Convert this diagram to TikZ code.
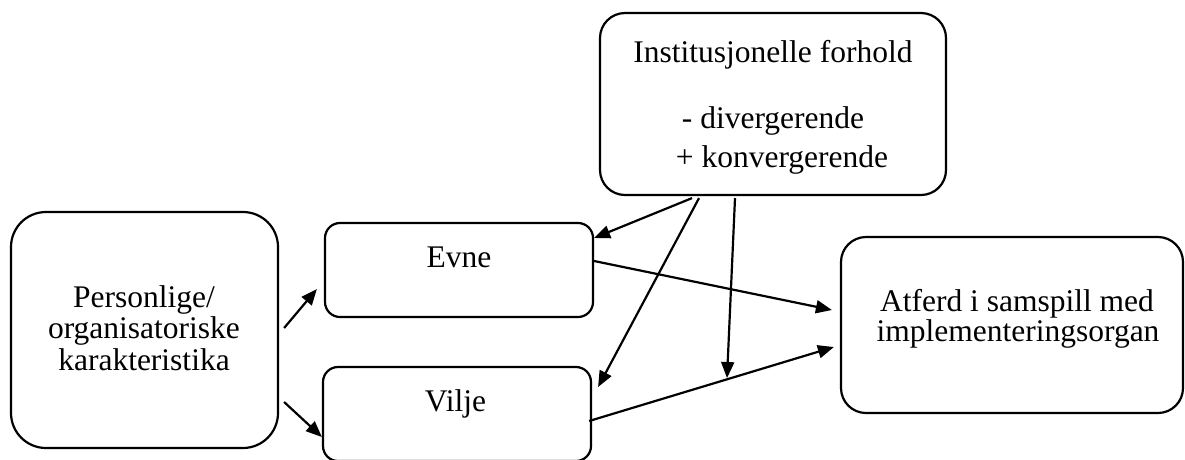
\documentclass[tikz,border=0pt]{standalone}
\usepackage{fontspec}
\setmainfont{Liberation Serif}
\usetikzlibrary{arrows.meta}
\begin{document}
\begin{tikzpicture}[x=1pt,y=-1pt,
  box/.style={draw, line width=2.2pt, rounded corners=#1, inner sep=0pt},
  box/.default=15pt,
  txt/.style={inner sep=0pt, anchor=base, font=\fontsize{31.5}{38}\selectfont},
  conn/.style={line width=2.2pt, -{Triangle[length=16pt,width=13pt]}}]
\useasboundingbox (0,0) rectangle (1185,459);
% boxes
\node[box=25pt, minimum width=346pt, minimum height=182pt] (inst) at (773,104) {};
\node[box=35pt, minimum width=267pt, minimum height=236pt] (pers) at (144.5,330) {};
\node[box=15pt, minimum width=268pt, minimum height=94pt] (evne) at (459,270) {};
\node[box=15pt, minimum width=268pt, minimum height=94pt] (vilje) at (457,414) {};
\node[box=25pt, minimum width=342pt, minimum height=176pt] (atf) at (1012,325) {};
% texts
\node[txt] (t1) at (773,62) {Institusjonelle forhold};
\node[txt] (t2) at (773,128) {- divergerende};
\node[txt] (t3) at (782,167) {+ konvergerende};
\node[txt] (t4) at (144,307) {Personlige/};
\node[txt] (t5) at (144,338) {organisatoriske};
\node[txt] (t6) at (144,370) {karakteristika};
\node[txt] (t7) at (459,267) {Evne};
\node[txt] (t8) at (455.5,411) {Vilje};
\node[txt] (t9) at (1017,311) {Atferd i samspill med};
\node[txt] (t10) at (1018,341) {implementeringsorgan};
% connectors
\coordinate (m) at (727,378);
\draw[conn] ([xshift=5pt,yshift=2pt]pers.east) -- ([xshift=-7pt,yshift=-19pt]evne.west);
\draw[conn] ([xshift=5pt,yshift=-72pt]pers.east) -- ([yshift=-23pt]vilje.west);
\draw[conn] ([xshift=-81pt,yshift=-2pt]inst.south) -- ([yshift=32pt]evne.east);
\draw[conn] ([xshift=-74pt,yshift=-2pt]inst.south) -- ([xshift=6pt,yshift=27pt]vilje.east);
\draw[conn] ([xshift=-38pt,yshift=-2pt]inst.south) -- (m);
\draw[conn] ([yshift=9pt]evne.east) -- ([xshift=-8pt,yshift=15pt]atf.west);
\draw[conn] ([xshift=-3pt,yshift=-7pt]vilje.east) -- ([xshift=-6pt,yshift=-22pt]atf.west);
\end{tikzpicture}
\end{document}
